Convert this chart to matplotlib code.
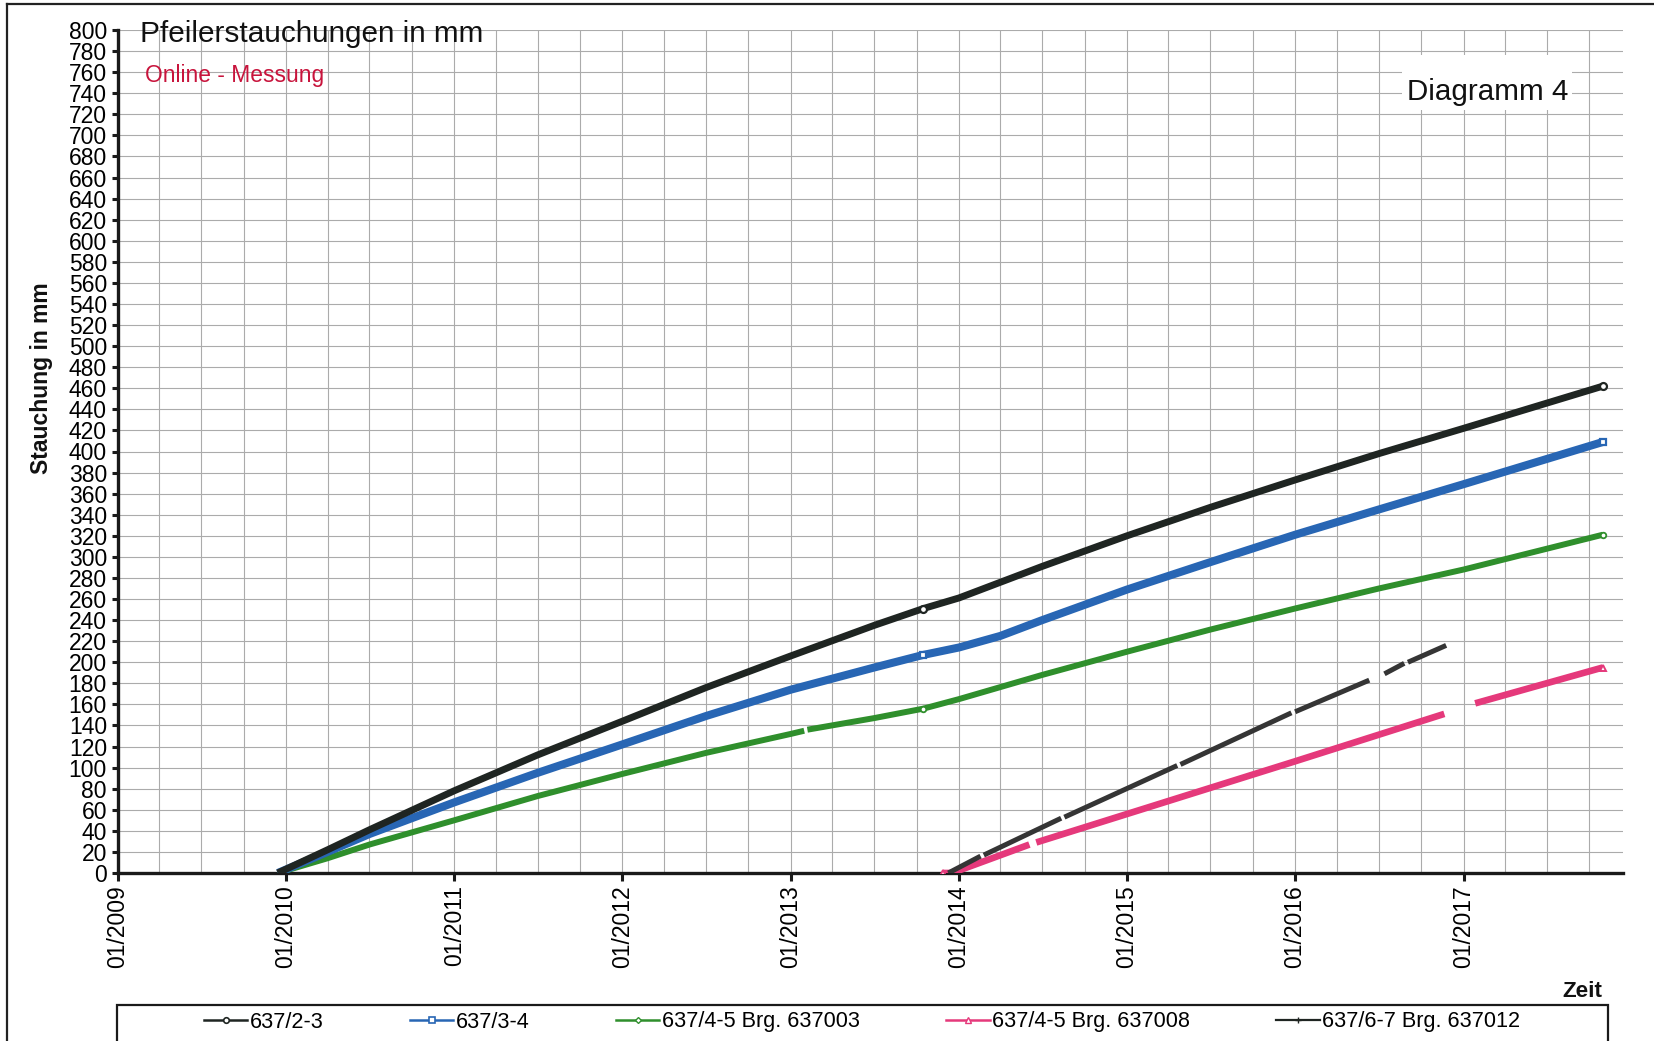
import numpy as np
import pandas as pd
import matplotlib
matplotlib.use("Agg")
import matplotlib.pyplot as plt
import matplotlib.dates as mdates
from matplotlib.lines import Line2D
from matplotlib.patches import Rectangle

plt.rcParams["font.family"] = ["Liberation Sans", "DejaVu Sans"]

# ---- data: compression of the piers (mm) over time ----
dates_a = ["2009-12-14", "2010-04-01", "2010-07-01", "2011-01-01", "2011-07-01",
           "2012-01-01", "2012-07-01", "2013-01-01", "2013-07-01", "2013-10-16",
           "2014-01-01", "2014-07-01", "2015-01-01", "2015-07-01", "2016-01-01",
           "2016-07-01", "2017-01-01", "2017-10-30"]
p_2_3 = [0, 22, 41, 78, 112, 144, 176, 206, 235, 251,
         261, 291, 320, 347, 373, 398, 422, 462]

dates_b = ["2009-12-14", "2010-04-01", "2010-07-01", "2011-01-01", "2011-07-01",
           "2012-01-01", "2012-07-01", "2013-01-01", "2013-07-01", "2013-10-16",
           "2014-01-01", "2014-04-01", "2014-07-01", "2015-01-01", "2015-07-01",
           "2016-01-01", "2016-07-01", "2017-01-01", "2017-10-30"]
p_3_4 = [0, 20, 37, 67, 95, 122, 149, 174, 195, 207,
         214, 225, 240, 269, 295, 321, 345, 369, 409]

dates_c = ["2009-12-14", "2010-04-01", "2010-07-01", "2011-01-01", "2011-07-01",
           "2012-01-01", "2012-07-01", "2013-01-01", "2013-01-30", "2013-02-02",
           "2013-02-06", "2013-07-01", "2013-10-16", "2014-01-01", "2014-07-01",
           "2015-01-01", "2015-07-01", "2016-01-01", "2016-07-01", "2017-01-01",
           "2017-10-30"]
p_4_5_003 = [0, 14, 27, 50, 73, 94, 114, 132, 135, None,
             136, 147, 156, 165, 188, 210, 231, 251, 270, 288, 321]

dates_d = ["2013-11-28", "2013-12-17", "2014-06-03", "2014-06-10", "2014-06-18",
           "2015-01-01", "2016-01-01", "2016-11-20", "2016-12-20", "2017-01-26",
           "2017-10-30"]
p_4_5_008 = [0, 0, 27, None, 29, 56, 106, 151, None, 161, 195]

dates_e = ["2013-12-09", "2014-02-17", "2014-02-20", "2014-02-24", "2014-08-11",
           "2014-08-14", "2014-08-18", "2015-04-20", "2015-04-23", "2015-04-27",
           "2015-12-24", "2015-12-28", "2016-01-01", "2016-06-10", "2016-06-25",
           "2016-07-13", "2016-08-25", "2016-08-29", "2016-09-02", "2016-11-24"]
p_6_7_012 = [0, 16, None, 17, 52, None, 53, 102, None, 103,
             152, None, 153, 183, None, 189, 199, None, 200, 216]

labels = ["637/2-3", "637/3-4", "637/4-5 Brg. 637003",
          "637/4-5 Brg. 637008", "637/6-7 Brg. 637012"]
y_ticks = list(range(0, 801, 20))

# ---- figure ----
W, H = 1654, 1041
fig = plt.figure(figsize=(W / 100, H / 100), dpi=100)
fig.patch.set_facecolor("white")


def fx(px):
    return px / W


def fy(py):
    return 1 - py / H


ax = fig.add_axes([fx(118), fy(873), fx(1623) - fx(118), fy(30) - fy(873)])

def arr(v):
    return np.array([np.nan if x is None else x for x in v], dtype=float)

def dt(v):
    return pd.to_datetime(v)

black = "#1f2522"
blue = "#2866b4"
green = "#2f8f2c"
pink = "#e5397b"
grey = "#353535"

ax.plot(dt(dates_a), arr(p_2_3), color=black, lw=5.0, solid_capstyle="butt",
        solid_joinstyle="round",
        marker="o", markevery=[9, len(p_2_3) - 1], ms=5, mfc="white",
        mec=black, mew=1.6, zorder=6)
ax.plot(dt(dates_b), arr(p_3_4), color=blue, lw=5.8, solid_capstyle="butt",
        solid_joinstyle="round",
        marker="s", markevery=[9, len(p_3_4) - 1], ms=5, mfc="white",
        mec=blue, mew=1.6, zorder=5)
ax.plot(dt(dates_c), arr(p_4_5_003), color=green, lw=4.3, solid_capstyle="butt",
        solid_joinstyle="round",
        marker="o", markevery=[12, len(p_4_5_003) - 1], ms=4, mfc="white",
        mec=green, mew=1.3, zorder=4)
ax.plot(dt(dates_d), arr(p_4_5_008), color=pink, lw=4.8, solid_capstyle="butt",
        solid_joinstyle="round",
        marker="^", markevery=[0, len(p_4_5_008) - 1], ms=4.5, mfc="white",
        mec=pink, mew=1.4, zorder=4)
ax.plot(dt(dates_e), arr(p_6_7_012), color=grey, lw=3.6, solid_capstyle="butt",
        solid_joinstyle="round", zorder=4)

# axes limits, ticks and grid
ax.set_xlim(pd.Timestamp("2009-01-01"), pd.Timestamp("2017-12-13"))
ax.set_ylim(0, 800)
ax.set_yticks(y_ticks)
ax.xaxis.set_major_locator(mdates.YearLocator())
ax.xaxis.set_minor_locator(mdates.MonthLocator(bymonth=[4, 7, 10]))
ax.xaxis.set_major_formatter(mdates.DateFormatter("%m/%Y"))
ax.grid(True, which="both", color="#ababab", lw=0.8, zorder=0)
ax.set_axisbelow(True)

ax.tick_params(axis="y", direction="out", length=4.5, width=2.2, pad=3.5,
               labelsize=16.5, color="#1a1a1a")
ax.tick_params(axis="x", which="major", direction="out", length=5.5, width=2.2,
               pad=3.5, labelsize=16.5, labelrotation=90, color="#1a1a1a")
ax.tick_params(axis="x", which="minor", length=0)

for side in ("top", "right"):
    ax.spines[side].set_visible(False)
for side in ("left", "bottom"):
    ax.spines[side].set_linewidth(2.4)
    ax.spines[side].set_color("#1a1a1a")

# texts
fig.text(fx(140), fy(42), "Pfeilerstauchungen in mm", fontsize=21.4,
         va="baseline", ha="left", color="#111111")
fig.text(fx(145), fy(82), "Online - Messung", fontsize=16.4,
         va="baseline", ha="left", color="#c8143c")
fig.add_artist(Rectangle((fx(1402), fy(110)), fx(1572) - fx(1402), fy(55) - fy(110),
                         transform=fig.transFigure, facecolor="white",
                         edgecolor="none", zorder=5))
fig.text(fx(1488), fy(100), "Diagramm 4", fontsize=21.3, va="baseline",
         ha="center", color="#111111", zorder=6)
fig.text(fx(42), fy(378), "Stauchung in mm", fontsize=16.5, fontweight="bold",
         rotation=90, va="center", ha="center", color="#111111")
fig.text(fx(1602), fy(997), "Zeit", fontsize=16.2, fontweight="bold",
         va="baseline", ha="right", color="#111111")

# outer frame lines
fig.add_artist(Line2D([fx(7), fx(7)], [0, fy(4)], transform=fig.transFigure,
                      color="#222222", lw=1.6))
fig.add_artist(Line2D([fx(7), 1], [fy(4), fy(4)], transform=fig.transFigure,
                      color="#222222", lw=1.6))

# legend
handles = [
    Line2D([], [], color=black, lw=1.8, marker="o", ms=4, mfc="white", mec=black, mew=1.2),
    Line2D([], [], color=blue, lw=1.8, marker="s", ms=4, mfc="white", mec=blue, mew=1.2),
    Line2D([], [], color=green, lw=1.8, marker="D", ms=3, mfc="white", mec=green, mew=1.0),
    Line2D([], [], color=pink, lw=1.8, marker="^", ms=4, mfc="white", mec=pink, mew=1.0),
    Line2D([], [], color=black, lw=1.6, marker="+", ms=4, mec=black, mew=1.0),
]
fig.add_artist(Rectangle((fx(117), fy(1060)), fx(1608) - fx(117), fy(1005) - fy(1060),
                         transform=fig.transFigure, facecolor="none",
                         edgecolor="#1a1a1a", lw=1.6, zorder=3))
fig.legend(handles, labels, loc="center", bbox_to_anchor=(fx(862), fy(1022)),
           ncol=5, frameon=False, fontsize=15.6, handlelength=2.0,
           handletextpad=0.1, columnspacing=4.0, borderaxespad=0)

fig.savefig("out.png", dpi=100, facecolor="white")
